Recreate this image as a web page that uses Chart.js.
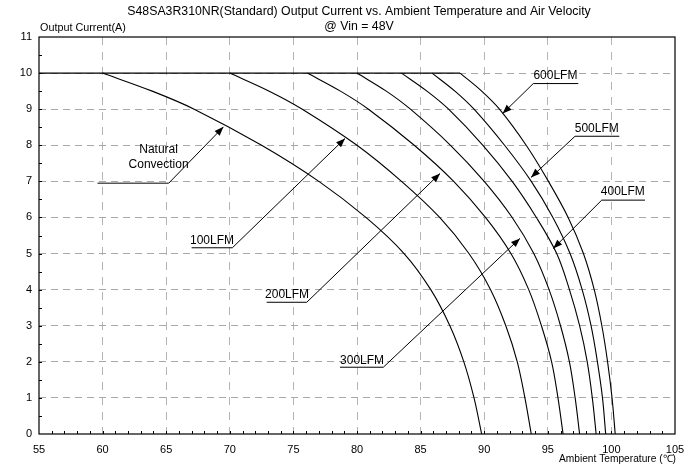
<!DOCTYPE html>
<html>
<head>
<meta charset="utf-8">
<script src="https://cdn.jsdelivr.net/npm/chart.js@4.4.1/dist/chart.umd.min.js"></script>
<style>
  html, body { margin: 0; padding: 0; background: #fff; }
  #derating { display: block; }
</style>
</head>
<body>
<canvas id="derating" width="696" height="466"></canvas>
<script>
// output current steps (A) shared by every curve
const currentLevels = [10, 9.5, 9, 8, 7, 6, 5, 4, 3, 2, 1, 0];

// ambient temperature (C) where each curve crosses the levels above
const naturalConv = [60, 63.9, 67.2, 72.5, 77.0, 80.7, 83.7, 85.8, 87.3, 88.4, 89.2, 89.8];
const lfm100 = [70, 73.1, 75.7, 80.0, 83.5, 86.5, 88.8, 90.5, 91.7, 92.6, 93.2, 93.7];
const lfm200 = [76.1, 78.7, 80.9, 84.5, 87.6, 90.1, 92.1, 93.5, 94.5, 95.3, 95.8, 96.2];
const lfm300 = [80.0, 82.3, 84.2, 87.35, 90.0, 92.2, 93.9, 95.1, 96.0, 96.7, 97.15, 97.5];
const lfm400 = [83.5, 85.5, 87.2, 89.9, 92.2, 94.1, 95.7, 96.7, 97.5, 98.1, 98.5, 98.8];
const lfm500 = [85.9, 87.7, 89.2, 91.6, 93.7, 95.4, 96.75, 97.7, 98.4, 98.9, 99.3, 99.55];
const lfm600 = [88.1, 89.8, 91.2, 93.3, 95.05, 96.6, 97.8, 98.65, 99.25, 99.7, 100.05, 100.3];

// rated current plateau
const flatTemps = [55, 88.1];
const flatCurrent = [10, 10];

const xTicks = [55, 60, 65, 70, 75, 80, 85, 90, 95, 100, 105];
const yTicks = [0, 1, 2, 3, 4, 5, 6, 7, 8, 9, 10, 11];

const FONT = "'Liberation Sans', Arial, sans-serif";

// callout labels: text, text centre, underline ends, arrow tip (chart units)
const callouts = [
  { text: ['Natural', 'Convection'], tx: 64.4, ty: 7.45, u1: 59.6, u2: 65.2, uy: 6.95, ax: 69.5, ay: 8.51 },
  { text: ['100LFM'], tx: 68.6, ty: 5.35, u1: 67.0, u2: 70.2, uy: 5.16, ax: 79.06, ay: 8.19 },
  { text: ['200LFM'], tx: 74.5, ty: 3.85, u1: 72.9, u2: 76.05, uy: 3.65, ax: 86.53, ay: 7.22 },
  { text: ['300LFM'], tx: 80.4, ty: 2.02, u1: 78.66, u2: 82.07, uy: 1.85, ax: 92.81, ay: 5.42 },
  { text: ['400LFM'], tx: 100.9, ty: 6.71, u1: 102.64, u2: 99.24, uy: 6.48, ax: 95.43, ay: 5.14 },
  { text: ['500LFM'], tx: 98.85, ty: 8.47, u1: 100.62, u2: 97.14, uy: 8.25, ax: 93.68, ay: 7.11 },
  { text: ['600LFM'], tx: 95.6, ty: 9.94, u1: 97.4, u2: 93.86, uy: 9.71, ax: 91.45, ay: 8.88 }
];

function toPoints(temps, amps) {
  return temps.map((t, i) => ({ x: t, y: amps[i] }));
}

function curve(label, temps) {
  return {
    label: label,
    data: toPoints(temps, currentLevels),
    borderColor: '#000',
    borderWidth: 1.1,
    pointRadius: 0,
    tension: 0.35,
    fill: false
  };
}

const extras = {
  id: 'extras',
  afterDraw(chart) {
    const ctx = chart.ctx;
    const a = chart.chartArea;
    const xs = chart.scales.x;
    const ys = chart.scales.y;
    ctx.save();

    // frame
    ctx.strokeStyle = '#000';
    ctx.lineWidth = 1.2;
    ctx.strokeRect(a.left, a.top, a.right - a.left, a.bottom - a.top);

    // inward minor ticks
    ctx.lineWidth = 1;
    ctx.beginPath();
    for (let t = 56; t < 105; t++) {
      const px = Math.round(xs.getPixelForValue(t)) + 0.5;
      ctx.moveTo(px, a.bottom);
      ctx.lineTo(px, a.bottom - 3);
    }
    for (let v = 0.5; v < 11; v += 0.5) {
      const py = Math.round(ys.getPixelForValue(v)) + 0.5;
      ctx.moveTo(a.left, py);
      ctx.lineTo(a.left + 3, py);
    }
    ctx.stroke();

    // titles
    ctx.fillStyle = '#000';
    ctx.textAlign = 'center';
    ctx.textBaseline = 'middle';
    ctx.font = '12.3px ' + FONT;
    ctx.fillText('S48SA3R310NR(Standard) Output Current vs. Ambient Temperature and Air Velocity', 359, 12);
    ctx.fillText('@ Vin = 48V', 359, 27);
    ctx.font = '10.8px ' + FONT;
    ctx.textAlign = 'left';
    ctx.fillText('Output Current(A)', 40, 28);
    ctx.font = '10.2px ' + FONT;
    ctx.textAlign = 'right';
    ctx.fillText('Ambient Temperature (\u2103)', 676, 459);

    // callouts
    ctx.font = '12px ' + FONT;
    ctx.textAlign = 'center';
    callouts.forEach(c => {
      const tx = xs.getPixelForValue(c.tx);
      const ty = ys.getPixelForValue(c.ty);
      c.text.forEach((line, i) => {
        ctx.fillText(line, tx, ty + (i - (c.text.length - 1)) * 15.5);
      });
      const x1 = xs.getPixelForValue(c.u1);
      const x2 = xs.getPixelForValue(c.u2);
      const uy = ys.getPixelForValue(c.uy);
      const ax = xs.getPixelForValue(c.ax);
      const ay = ys.getPixelForValue(c.ay);
      ctx.lineWidth = 1;
      ctx.beginPath();
      ctx.moveTo(x1, uy);
      ctx.lineTo(x2, uy);
      ctx.lineTo(ax, ay);
      ctx.stroke();
      const ang = Math.atan2(ay - uy, ax - x2);
      const len = 9, half = 3.5;
      ctx.beginPath();
      ctx.moveTo(ax, ay);
      ctx.lineTo(ax - len * Math.cos(ang) + half * Math.sin(ang), ay - len * Math.sin(ang) - half * Math.cos(ang));
      ctx.lineTo(ax - len * Math.cos(ang) - half * Math.sin(ang), ay - len * Math.sin(ang) + half * Math.cos(ang));
      ctx.closePath();
      ctx.fill();
    });
    ctx.restore();
  }
};

new Chart(document.getElementById('derating'), {
  type: 'line',
  data: {
    datasets: [
      {
        label: 'rated',
        data: toPoints(flatTemps, flatCurrent),
        borderColor: '#000',
        borderWidth: 1.1,
        pointRadius: 0,
        fill: false
      },
      curve('Natural Convection', naturalConv),
      curve('100LFM', lfm100),
      curve('200LFM', lfm200),
      curve('300LFM', lfm300),
      curve('400LFM', lfm400),
      curve('500LFM', lfm500),
      curve('600LFM', lfm600)
    ]
  },
  options: {
    responsive: false,
    animation: false,
    devicePixelRatio: 1,
    layout: { padding: { left: 0, top: 37, right: 21, bottom: 0 } },
    plugins: {
      legend: { display: false },
      title: { display: false },
      tooltip: { enabled: false }
    },
    scales: {
      x: {
        type: 'linear',
        min: 55,
        max: 105,
        afterFit: s => { s.height = 32; },
        afterBuildTicks: s => { s.ticks = xTicks.map(v => ({ value: v })); },
        ticks: {
          color: '#000',
          font: { family: FONT, size: 11 },
          padding: 9,
          maxRotation: 0,
          autoSkip: false
        },
        grid: {
          drawTicks: false,
          color: c => (c.tick && (c.tick.value === 55 || c.tick.value === 105)) ? 'rgba(0,0,0,0)' : '#b4b4b4',
          lineWidth: 1
        },
        border: { display: false, dash: [8, 7] }
      },
      y: {
        type: 'linear',
        min: 0,
        max: 11,
        afterFit: s => { s.width = 39; },
        afterBuildTicks: s => { s.ticks = yTicks.map(v => ({ value: v })); },
        ticks: {
          color: '#000',
          font: { family: FONT, size: 11 },
          padding: 7,
          autoSkip: false
        },
        grid: {
          drawTicks: false,
          color: c => (c.tick && (c.tick.value === 0 || c.tick.value === 11)) ? 'rgba(0,0,0,0)' : '#a8a8a8',
          lineWidth: 1
        },
        border: { display: false, dash: [7, 5] }
      }
    }
  },
  plugins: [extras]
});
</script>
</body>
</html>
